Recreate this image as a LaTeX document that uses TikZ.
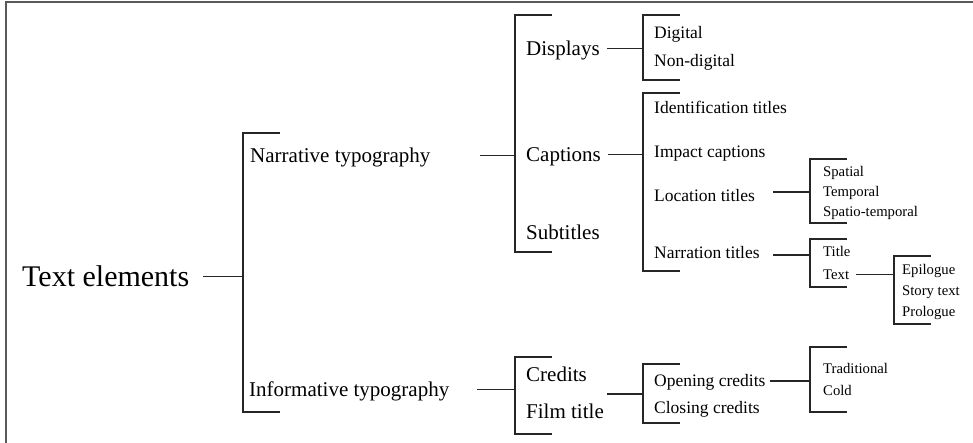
\documentclass[tikz,border=0pt]{standalone}
\usepackage{fontspec}
\setmainfont{Liberation Serif}
\tikzset{
  lbl/.style = {anchor=west, inner sep=0pt, text depth=0pt},
  lvlA/.style = {lbl, text height=19.8pt, font=\fontsize{30}{34}\selectfont},
  lvlB/.style = {lbl, text height=13.9pt, font=\fontsize{21}{24}\selectfont},
  lvlC/.style = {lbl, text height=11.6pt, font=\fontsize{17.5}{20}\selectfont},
  lvlD/.style = {lbl, text height=9.7pt, font=\fontsize{14.7}{17}\selectfont},
  brace/.style = {draw=black!85, line width=1.5pt},
  link/.style = {draw=black!85, line width=1.5pt}
}

\begin{document}
\begin{tikzpicture}[x=1pt,y=-1pt]
		\useasboundingbox (0,0) rectangle (973,443);
		% frame
		\draw[black!65, line width=1.3pt] (6,443) -- (6,2) -- (973,2);

		% text nodes
		\node[lvlA] (root) at (22,276.5) {Text elements};
		\node[lvlB] (narr) at (250,155.5) {Narrative typography};
		\node[lvlB] (info) at (249,389.5) {Informative typography};
		\node[lvlB] (disp) at (526,48.5) {Displays};
		\node[lvlB] (capt) at (526,154.5) {Captions};
		\node[lvlB] (subt) at (526,232.5) {Subtitles};
		\node[lvlB] (cred) at (526,374.5) {Credits};
		\node[lvlB] (film) at (526,412) {Film title};
		\node[lvlC] (digi) at (654,33) {Digital};
		\node[lvlC] (nond) at (654,61) {Non-digital};
		\node[lvlC] (iden) at (654,108) {Identification titles};
		\node[lvlC] (impa) at (654,152) {Impact captions};
		\node[lvlC] (loca) at (654,196) {Location titles};
		\node[lvlC] (narr2) at (654,253) {Narration titles};
		\node[lvlC] (open) at (654,381) {Opening credits};
		\node[lvlC] (clos) at (654,407.5) {Closing credits};
		\node[lvlD] (spat) at (823,172) {Spatial};
		\node[lvlD] (temp) at (823,192) {Temporal};
		\node[lvlD] (spte) at (823,212) {Spatio-temporal};
		\node[lvlD] (titl) at (823,252) {Title};
		\node[lvlD] (text) at (823,274.5) {Text};
		\node[lvlD] (trad) at (823,368.5) {Traditional};
		\node[lvlD] (cold) at (823,390.5) {Cold};
		\node[lvlD] (epil) at (902,270) {Epilogue};
		\node[lvlD] (stor) at (902,291) {Story text};
		\node[lvlD] (prol) at (902,312) {Prologue};

		% brackets: top and bottom corners
		\coordinate (b1t) at (243,133); \coordinate (b1b) at (243,412);
		\coordinate (b2t) at (515,15);  \coordinate (b2b) at (515,252);
		\coordinate (b3t) at (515,357); \coordinate (b3b) at (515,434);
		\coordinate (b4t) at (643,15);  \coordinate (b4b) at (643,80);
		\coordinate (b5t) at (643,93);  \coordinate (b5b) at (643,271);
		\coordinate (b6t) at (643,364); \coordinate (b6b) at (643,423);
		\coordinate (b7t) at (810,159); \coordinate (b7b) at (810,223);
		\coordinate (b8t) at (810,239); \coordinate (b8b) at (810,287);
		\coordinate (b9t) at (810,347); \coordinate (b9b) at (810,412);
		\coordinate (b10t) at (894,256); \coordinate (b10b) at (894,324);
		\coordinate (b6m) at (643,394);
		\foreach \b in {b1,b2,b3,b4,b5,b6,b7,b8,b9,b10}
			\draw[brace] ([xshift=37pt]\b t) -- (\b t) -- (\b b) -- ([xshift=37pt]\b b);

		% links
		\draw[link] ([xshift=14pt]root.east) -- (root.east -| b1t);
		\draw[link] ([xshift=49pt]narr.east) -- (narr.east -| b2t);
		\draw[link] ([xshift=28pt]info.east) -- (info.east -| b3t);
		\draw[link] ([xshift=7.5pt]disp.east) -- (disp.east -| b4t);
		\draw[link] ([xshift=7pt]capt.east) -- (capt.east -| b5t);
		\draw[link] (film.east |- b6m) ++(3,0) -- (b6m);
		\draw[link] ([xshift=18pt,yshift=4pt]loca.east) -- ([yshift=4pt]loca.east -| b7t);
		\draw[link] ([xshift=13.5pt,yshift=-2pt]narr2.east) -- ([yshift=-2pt]narr2.east -| b8t);
		\draw[link] ([xshift=4pt]open.east) -- (open.east -| b9t);
		\draw[link] ([xshift=7pt]text.east) -- (text.east -| b10t);
\end{tikzpicture}
\end{document}
